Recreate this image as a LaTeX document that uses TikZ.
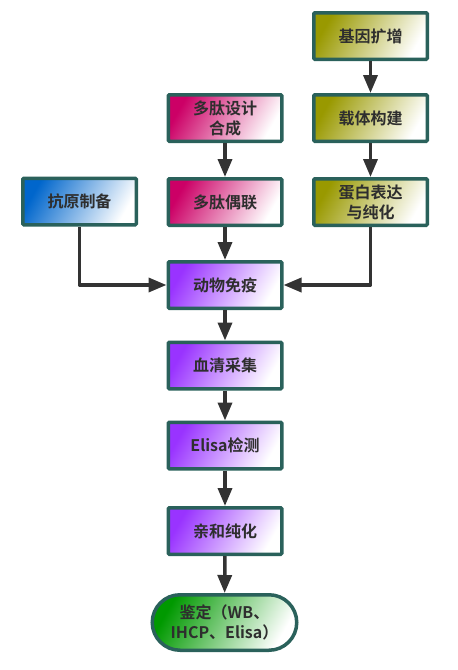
\documentclass[tikz,border=0pt]{standalone}
\usepackage{fontspec}
\setmainfont{Noto Sans CJK SC Bold}
\usetikzlibrary{arrows.meta,shapes.misc}
\definecolor{bordc}{HTML}{2A615B}
\definecolor{linec}{HTML}{333333}
\definecolor{txtc}{HTML}{2E2E2E}
\definecolor{pinkc}{HTML}{CC0066}
\definecolor{bluec}{HTML}{0066CC}
\definecolor{olivec}{HTML}{999900}
\definecolor{purplec}{HTML}{9933FF}
\definecolor{greenc}{HTML}{009900}
\tikzset{
  box/.style={draw=bordc, line width=3.5pt, minimum width=113.5pt, minimum height=46.5pt,
    inner sep=0pt, align=center, text=txtc, font=\fontsize{16pt}{20pt}\selectfont,
    rounded corners=1pt},
  fillgrad/.style={left color=#1, right color=white, shading angle=60},
  conn/.style={draw=linec, line width=3.5pt, line join=round,
    -{Triangle[length=18pt,width=14pt]}},
}
\begin{document}
\begin{tikzpicture}[x=1pt,y=-1pt]
\useasboundingbox (0,0) rectangle (458,670);
\node[box, fillgrad=olivec] (gene) at (370.5,36) {基因扩增};
\node[box, fillgrad=olivec] (vector) at (370.5,118) {载体构建};
\node[box, fillgrad=olivec] (protein) at (370.5,202) {蛋白表达\\与纯化};
\node[box, fillgrad=pinkc] (pep1) at (225,118) {多肽设计\\合成};
\node[box, fillgrad=pinkc] (pep2) at (225,202) {多肽偶联};
\node[box, fillgrad=bluec] (antigen) at (79.5,201.5) {抗原制备};
\node[box, fillgrad=purplec] (immune) at (225,285) {动物免疫};
\node[box, fillgrad=purplec] (serum) at (225,365.5) {血清采集};
\node[box, fillgrad=purplec] (elisa) at (225,445.5) {Elisa检测};
\node[box, fillgrad=purplec] (affinity) at (225,531) {亲和纯化};
\node[box, fillgrad=greenc, rounded rectangle, rounded corners=0pt, minimum width=144.5pt, minimum height=55.5pt] (ident) at (224.5,622.5) {鉴定（WB、\\IHCP、Elisa）};
\draw[conn] (gene) -- (vector);
\draw[conn] (vector) -- (protein);
\draw[conn] (pep1) -- (pep2);
\draw[conn] (pep2) -- (immune);
\draw[conn] (antigen) |- (immune);
\draw[conn] (protein) |- (immune);
\draw[conn] (immune) -- (serum);
\draw[conn] (serum) -- (elisa);
\draw[conn] (elisa) -- (affinity);
\draw[conn] (affinity) -- (ident);
\end{tikzpicture}
\end{document}
